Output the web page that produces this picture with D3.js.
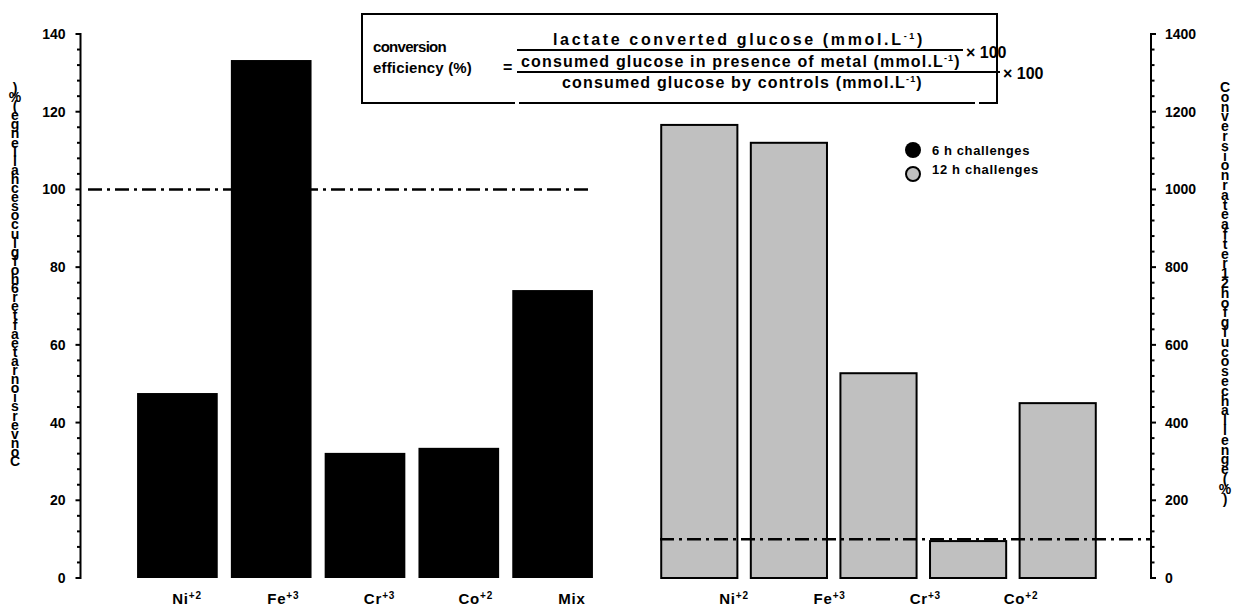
<!DOCTYPE html>
<html><head><meta charset="utf-8">
<script src="https://cdn.jsdelivr.net/npm/d3@7"></script>
<style>
body{margin:0;background:#fff;}
text{font-family:"Liberation Sans",Arial,sans-serif;font-weight:bold;fill:#000;}
</style></head>
<body><svg id="c" width="1247" height="609"></svg>
<script>
const categories = ["Ni","Fe","Cr","Co","Mix"];
const charges = ["+2","+3","+3","+2",""];
const sixHourValues = [47.6,133.3,32.2,33.5,74.1];
const twelveHourValues = [1166,1120,527,95,450];
const rightLabelCats = ["Ni","Fe","Cr","Co"];
const rightLabelCharges = ["+2","+3","+3","+2"];
const leftTicks = [0,20,40,60,80,100,120,140];
const rightTicks = [0,200,400,600,800,1000,1200,1400];
const referenceLeft = 100;
const referenceRight = 100;
const leftTitle = "Conversion rate after 6 h of glucose challenge (%)";
const rightTitle = "Conversion rate after 12 h of glucose challenge (%)";
const legendItems = ["6 h challenges","12 h challenges"];

const svg = d3.select("#c");
const y0 = 578, y1 = 34;
const yL = d3.scaleLinear().domain([0,140]).range([y0,y1]);
const yR = d3.scaleLinear().domain([0,1400]).range([y0,y1]);
const xL = d3.scaleBand().domain(categories).range([130.5,599.5]).paddingInner(0.14).paddingOuter(0.07);
const xR = d3.scaleBand().domain(categories).range([654.5,1102.5]).paddingInner(0.15).paddingOuter(0.075);
const lblL = d3.scalePoint().domain(categories).range([187,572]);
const lblR = d3.scalePoint().domain(rightLabelCats).range([734,1021]);

// fit a text element to a target width via letter-spacing
function fit(t, target){
  const n = t.text().length;
  const w = t.node().getComputedTextLength();
  t.attr("letter-spacing", ((target - w)/n).toFixed(2)+"px");
  return t;
}

// left bars
svg.append("g").selectAll("rect").data(categories).join("rect")
  .attr("x",d=>xL(d)).attr("width",xL.bandwidth())
  .attr("y",(d,i)=>yL(sixHourValues[i])).attr("height",(d,i)=>y0-yL(sixHourValues[i]))
  .attr("fill","#000");
// right bars
svg.append("g").selectAll("rect").data(categories).join("rect")
  .attr("x",d=>xR(d)).attr("width",xR.bandwidth())
  .attr("y",(d,i)=>yR(twelveHourValues[i])).attr("height",(d,i)=>y0-yR(twelveHourValues[i]))
  .attr("fill","#c0c0c0").attr("stroke","#000").attr("stroke-width",2);

// reference lines
const dash = "14,5,3,5";
svg.append("line").attr("x1",88).attr("x2",591).attr("y1",yL(referenceLeft)).attr("y2",yL(referenceLeft))
  .attr("stroke","#000").attr("stroke-width",2.5).attr("stroke-dasharray",dash);
svg.append("line").attr("x1",660).attr("x2",1150).attr("y1",yR(referenceRight)).attr("y2",yR(referenceRight))
  .attr("stroke","#000").attr("stroke-width",2.5).attr("stroke-dasharray",dash);

// axes
function drawAxis(g, scale, minorStep, major, side){
  const dir = side==="left"?-1:1;
  const [dmin,dmax] = scale.domain();
  g.append("line").attr("x1",0).attr("x2",0).attr("y1",scale(dmin)+1).attr("y2",scale(dmax)-1)
    .attr("stroke","#000").attr("stroke-width",2);
  const minors = d3.range(dmin, dmax+minorStep/2, minorStep);
  g.selectAll("line.t").data(minors).join("line").attr("class","t")
    .attr("x1",0).attr("x2",d=>dir*(major.includes(d)?5:3.5))
    .attr("y1",d=>scale(d)).attr("y2",d=>scale(d))
    .attr("stroke","#000").attr("stroke-width",2);
  g.selectAll("text").data(major).join("text")
    .attr("x",side==="left"?-15:14).attr("y",d=>scale(d)).attr("dy","0.36em")
    .attr("text-anchor",side==="left"?"end":"start").attr("font-size",14).text(d=>d);
}
drawAxis(svg.append("g").attr("transform","translate(80.5,0)"), yL, 4, leftTicks, "left");
drawAxis(svg.append("g").attr("transform","translate(1151,0)"), yR, 40, rightTicks, "right");

// x labels
function catLabel(g, x, name, ch){
  const t = g.append("text").attr("x",x).attr("y",604).attr("text-anchor","middle").attr("font-size",15).attr("letter-spacing","0.8px");
  t.append("tspan").text(name);
  if(ch) t.append("tspan").attr("font-size",10).attr("dy",-5).text(ch);
}
const gxl = svg.append("g");
categories.forEach((c,i)=>catLabel(gxl, lblL(c), c, charges[i]));
const gxr = svg.append("g");
rightLabelCats.forEach((c,i)=>catLabel(gxr, lblR(c), c, rightLabelCharges[i]));

// stacked axis titles
function stacked(text, x, yStart, step, reverse){
  const chars = text.replace(/ /g,"").split("");
  const g = svg.append("g");
  chars.forEach((ch,i)=>{
    const y = reverse ? yStart - i*step : yStart + i*step;
    g.append("text").attr("x",x).attr("y",y).attr("text-anchor","middle").attr("font-size",14).text(ch);
  });
}
stacked(leftTitle, 15, 466, 9.1, true);
stacked(rightTitle, 1225, 92, 9.8, false);

// legend
svg.append("circle").attr("cx",913).attr("cy",150).attr("r",8).attr("fill","#000");
svg.append("circle").attr("cx",913).attr("cy",174).attr("r",7).attr("fill","#c0c0c0").attr("stroke","#000").attr("stroke-width",2);
fit(svg.append("text").attr("x",932).attr("y",150).attr("dy","0.35em").attr("font-size",13).text(legendItems[0]), 98);
fit(svg.append("text").attr("x",932).attr("y",169).attr("dy","0.35em").attr("font-size",13).text(legendItems[1]), 107);

// formula box
const fb = svg.append("g");
fb.append("rect").attr("x",362).attr("y",14).attr("width",635).attr("height",89).attr("fill","#fff").attr("stroke","#000").attr("stroke-width",2);
fb.append("rect").attr("x",515).attr("y",101).attr("width",4).attr("height",4).attr("fill","#fff");
fb.append("rect").attr("x",975).attr("y",101).attr("width",4).attr("height",4).attr("fill","#fff");
const fs = 16;
fit(fb.append("text").attr("x",373).attr("y",52).attr("font-size",15).text("conversion"), 73);
fit(fb.append("text").attr("x",373).attr("y",73).attr("font-size",15).text("efficiency (%)"), 99);
fb.append("text").attr("x",503).attr("y",73).attr("font-size",fs).text("=");
function withSup(xStart,y,pre,post,target){
  const t = fb.append("text").attr("x",xStart).attr("y",y).attr("font-size",fs);
  t.append("tspan").text(pre);
  t.append("tspan").attr("font-size",9).attr("dy",-6).text("-1");
  t.append("tspan").attr("dy",6).text(post);
  fit(t, target);
  return t;
}
withSup(553,45,"lactate converted glucose (mmol.L",")",372);
fb.append("line").attr("x1",517).attr("x2",963).attr("y1",50).attr("y2",50).attr("stroke","#000").attr("stroke-width",2);
withSup(521,67,"consumed glucose in presence of metal (mmol.L",")",440);
fb.append("text").attr("x",966).attr("y",58).attr("font-size",16).text("× 100");
fb.append("line").attr("x1",517).attr("x2",1000).attr("y1",72).attr("y2",72).attr("stroke","#000").attr("stroke-width",2);
withSup(562,88,"consumed glucose by controls (mmol.L",")",361);
fb.append("text").attr("x",1003).attr("y",79).attr("font-size",16).text("× 100");
</script></body></html>
